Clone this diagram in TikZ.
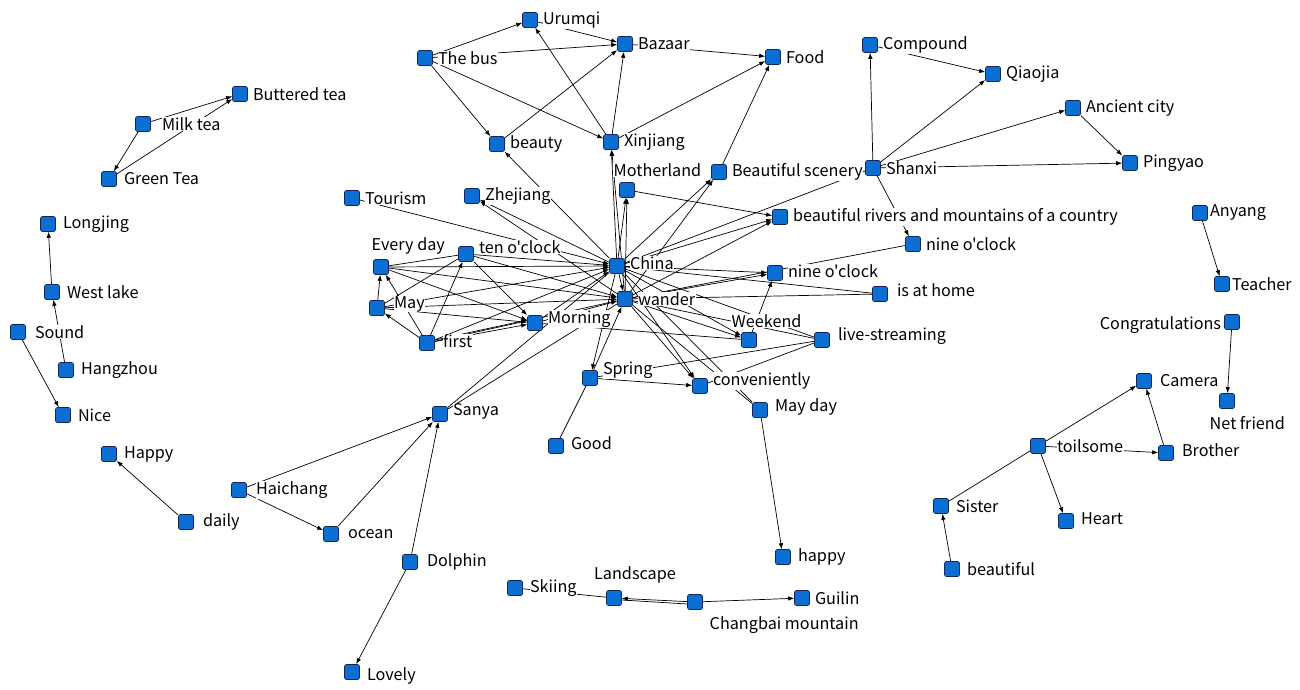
\documentclass[tikz,border=0pt]{standalone}
\usepackage{fontspec}
\newfontfamily\lbfont{Noto Sans CJK SC}
\usetikzlibrary{arrows.meta,backgrounds}
\definecolor{sqfill}{RGB}{10,110,210}
\definecolor{sqline}{RGB}{20,40,90}
\tikzset{
  sq/.style={draw=sqline, fill=sqfill, minimum size=15pt, inner sep=0pt, rounded corners=1.5pt, line width=0.6pt},
  lb/.style={font=\lbfont\fontsize{16.2}{19}\selectfont, inner sep=0.5pt, text=black, fill=white},
  every label/.style={lb},
  label distance=4.5pt,
  ar/.style={draw=black, line width=0.7pt, -{Latex[length=6pt,width=4.5pt]}},
  pl/.style={draw=black, line width=0.7pt},
}
\begin{document}
\begin{tikzpicture}[x=1pt,y=-1pt]
\useasboundingbox (0,0) rectangle (1300,690);
% ---- nodes ----
\node[sq,label=right:Urumqi] (urumqi) at (530,20) {};
\node[sq,label=right:The bus] (bus) at (425,58) {};
\node[sq,label=right:Bazaar] (bazaar) at (625,44) {};
\node[sq,label=right:Food] (food) at (773,57) {};
\node[sq,label=right:beauty] (beauty) at (497,144) {};
\node[sq,label=right:Xinjiang] (xinjiang) at (611,142) {};
\node[sq,label=right:Compound] (compound) at (870,45) {};
\node[sq,label=right:Qiaojia] (qiaojia) at (993,74) {};
\node[sq,label=right:Ancient city] (ancient) at (1073,108) {};
\node[sq,label=right:Pingyao] (pingyao) at (1130,163) {};
\node[sq,label=right:Shanxi] (shanxi) at (873,168) {};
\node[sq,label={[anchor=south west,xshift=-3pt,yshift=2pt]north west:Motherland}] (motherland) at (627,190) {};
\node[sq,label=right:Beautiful scenery] (scenery) at (719,172) {};
\node[sq,label=right:Zhejiang] (zhejiang) at (472,196) {};
\node[sq,label=right:Tourism] (tourism) at (352,198) {};
\node[sq,label=right:beautiful rivers and mountains of a country] (rivers) at (780,217) {};
\node[sq,label=right:nine o'clock] (nineA) at (913,244) {};
\node[sq,label={[yshift=7pt]right:ten o'clock}] (ten) at (466,254) {};
\node[sq,label={[anchor=south west,xshift=1pt,yshift=1pt]north west:Every day}] (everyday) at (381,267) {};
\node[sq,label={[yshift=3pt]right:China}] (china) at (617,266) {};
\node[sq,label={[yshift=2pt]right:nine o'clock}] (nineB) at (775,273) {};
\node[sq,label={[yshift=4pt,xshift=4pt]right:May}] (may) at (377,308) {};
\node[sq,label=right:wander] (wander) at (625,299) {};
\node[sq,label={[xshift=4pt,yshift=4pt]right:is at home}] (home) at (880,294) {};
\node[sq,label={[xshift=3pt,yshift=2pt]right:first}] (first) at (427,343) {};
\node[sq,label={[yshift=4pt]right:Morning}] (morning) at (535,323) {};
\node[sq,label={[anchor=south west,xshift=-7pt,yshift=1pt]north west:Weekend}] (weekend) at (749,340) {};
\node[sq,label={[xshift=3pt,yshift=4pt]right:live-streaming}] (live) at (822,340) {};
\node[sq,label={[yshift=8pt]right:Spring}] (spring) at (590,378) {};
\node[sq,label={[yshift=5pt]right:conveniently}] (conv) at (700,386) {};
\node[sq,label={[yshift=3pt,xshift=2pt]right:May day}] (mayday) at (760,410) {};
\node[sq,label={[xshift=2pt,yshift=3pt]right:Good}] (good) at (556,446) {};
\node[sq,label={[yshift=3pt]right:Sanya}] (sanya) at (440,414) {};
\node[sq,label={[xshift=4pt]right:Haichang}] (haichang) at (239,490) {};
\node[sq,label={[xshift=4pt]right:ocean}] (ocean) at (331,534) {};
\node[sq,label={[xshift=4pt]right:Dolphin}] (dolphin) at (410,562) {};
\node[sq,label={[xshift=2pt,yshift=-4pt]right:Lovely}] (lovely) at (352,672) {};
\node[sq,label={[xshift=2pt]right:happy}] (happyB) at (783,557) {};
\node[sq,label={[xshift=2pt]right:Skiing}] (skiing) at (515,588) {};
\node[sq,label={[anchor=south,xshift=21pt,yshift=2pt]north:Landscape}] (landscape) at (614,598) {};
\node[sq,label={[anchor=north west,xshift=3pt,yshift=-3pt]south east:Changbai mountain}] (changbai) at (695,602) {};
\node[sq,label=right:Guilin] (guilin) at (802,598) {};
\node[sq,label={[xshift=2pt]right:Happy}] (happyA) at (109,454) {};
\node[sq,label={[xshift=4pt]right:daily}] (daily) at (186,522) {};
\node[sq,label=right:Buttered tea] (butter) at (240,94) {};
\node[sq,label={[xshift=6pt]right:Milk tea}] (milk) at (143,124) {};
\node[sq,label={[xshift=2pt]right:Green Tea}] (green) at (109,179) {};
\node[sq,label={[xshift=2pt]right:Longjing}] (longjing) at (48,224) {};
\node[sq,label={[xshift=2pt]right:West lake}] (westlake) at (52,292) {};
\node[sq,label={[xshift=4pt]right:Sound}] (sound) at (18,332) {};
\node[sq,label={[xshift=2pt]right:Hangzhou}] (hangzhou) at (66,370) {};
\node[sq,label={[xshift=2pt]right:Nice}] (nice) at (63,415) {};
\node[sq,label={[xshift=-3pt]right:Anyang}] (anyang) at (1200,213) {};
\node[sq,label={[xshift=-3pt]right:Teacher}] (teacher) at (1222,284) {};
\node[sq,label={[xshift=2pt,yshift=-3pt]left:Congratulations}] (congrats) at (1232,322) {};
\node[sq,label={[anchor=north west,xshift=-7pt,yshift=-4pt]south west:Net friend}] (netfriend) at (1227,401) {};
\node[sq,label={[xshift=3pt]right:Camera}] (camera) at (1144,381) {};
\node[sq,label={[xshift=6pt]right:toilsome}] (toilsome) at (1038,446) {};
\node[sq,label={[xshift=3pt,yshift=3pt]right:Brother}] (brother) at (1166,453) {};
\node[sq,label={[xshift=2pt]right:Sister}] (sister) at (941,506) {};
\node[sq,label={[xshift=2pt,yshift=2pt]right:Heart}] (heart) at (1066,521) {};
\node[sq,label={[xshift=2pt]right:beautiful}] (beautiful) at (952,569) {};
% ---- edges ----
\begin{scope}[on background layer]
% Xinjiang cluster
\draw[ar] (bus) -- (urumqi);
\draw[ar] (bus) -- (bazaar);
\draw[ar] (bus) -- (beauty);
\draw[ar] (bus) -- (xinjiang);
\draw[ar] (urumqi) -- (bazaar);
\draw[ar] (xinjiang) -- (urumqi);
\draw[ar] (xinjiang) -- (bazaar);
\draw[ar] (beauty) -- (bazaar);
\draw[ar] (bazaar) -- (food);
\draw[ar] (xinjiang) -- (food);
\draw[ar] (scenery) -- (food);
\draw[ar] (china) -- (beauty);
\draw[ar] (china) -- (xinjiang);
\draw[ar] (wander) -- (xinjiang);
\draw[ar] (china) -- (motherland);
\draw[ar] (wander) -- (motherland);
\draw[ar] (motherland) -- (rivers);
\draw[ar] (china) -- (scenery);
\draw[ar] (wander) -- (scenery);
\draw[ar] (china) -- (rivers);
\draw[ar] (wander) -- (rivers);
% Shanxi cluster
\draw[pl] (shanxi) -- (china);
\draw[ar] (shanxi) -- (compound);
\draw[ar] (shanxi) -- (qiaojia);
\draw[ar] (compound) -- (qiaojia);
\draw[ar] (shanxi) -- (ancient);
\draw[ar] (ancient) -- (pingyao);
\draw[ar] (shanxi) -- (pingyao);
\draw[ar] (shanxi) -- (nineA);
\draw[pl] (nineA) -- (wander);
% right of centre
\draw[ar] (china) -- (nineB);
\draw[ar] (wander) -- (nineB);
\draw[ar] (weekend) -- (nineB);
\draw[pl] (home) -- (china);
\draw[pl] (home) -- (wander);
\draw[ar] (wander) -- (weekend);
\draw[ar] (china) -- (weekend);
\draw[pl] (wander) -- (live);
\draw[pl] (china) -- (live);
\draw[pl] (spring) -- (live);
\draw[pl] (conv) -- (live);
\draw[ar] (spring) -- (conv);
\draw[ar] (wander) -- (conv);
\draw[ar] (china) -- (conv);
\draw[pl] (china) -- (mayday);
\draw[pl] (wander) -- (mayday);
\draw[ar] (mayday) -- (happyB);
\draw[ar] (china) -- (spring);
\draw[ar] (spring) -- (wander);
\draw[pl] (good) -- (spring);
\draw[ar] (china) -- (wander);
% Sanya cluster
\draw[pl] (sanya) -- (china);
\draw[pl] (sanya) -- (wander);
\draw[ar] (haichang) -- (sanya);
\draw[ar] (ocean) -- (sanya);
\draw[ar] (dolphin) -- (sanya);
\draw[ar] (dolphin) -- (lovely);
\draw[ar] (haichang) -- (ocean);
\draw[ar] (daily) -- (happyA);
% bottom
\draw[pl] (skiing) -- (landscape);
\draw[ar] (changbai) -- (landscape);
\draw[pl] ([yshift=-2pt]landscape.east) -- ([yshift=-2pt]changbai.west);
\draw[ar] (changbai) -- (guilin);
% left
\draw[ar] (milk) -- (butter);
\draw[ar] (green) -- (butter);
\draw[ar] (milk) -- (green);
\draw[ar] (westlake) -- (longjing);
\draw[ar] (hangzhou) -- (westlake);
\draw[ar] (sound) -- (nice);
% right
\draw[ar] (anyang) -- (teacher);
\draw[ar] (congrats) -- (netfriend);
\draw[ar] (toilsome) -- (camera);
\draw[ar] (toilsome) -- (brother);
\draw[ar] (brother) -- (camera);
\draw[ar] (toilsome) -- (heart);
\draw[pl] (toilsome) -- (sister);
\draw[ar] (beautiful) -- (sister);
% centre left
\draw[ar] (tourism) -- (china);
\draw[ar] (china) -- (zhejiang);
\draw[ar] (wander) -- (zhejiang);
\draw[ar] (ten) -- (china);
\draw[ar] (ten) -- (wander);
\draw[ar] (ten) -- (morning);
\draw[pl] (everyday) -- (ten);
\draw[ar] (everyday) -- (china);
\draw[ar] (everyday) -- (wander);
\draw[ar] (everyday) -- (morning);
\draw[ar] (may) -- (everyday);
\draw[pl] (may) -- (ten);
\draw[ar] (may) -- (china);
\draw[ar] (may) -- (wander);
\draw[ar] (may) -- (morning);
\draw[ar] (first) -- (may);
\draw[ar] (first) -- (everyday);
\draw[ar] (first) -- (ten);
\draw[ar] (first) -- (morning);
\draw[ar] ([yshift=3pt]first.east) -- ([yshift=3pt]morning.west);
\draw[ar] (first) -- (china);
\draw[ar] (first) -- (wander);
\draw[ar] (morning) -- (china);
\draw[ar] (morning) -- (wander);
\draw[pl] (morning) -- (weekend);
\end{scope}
\end{tikzpicture}
\end{document}
